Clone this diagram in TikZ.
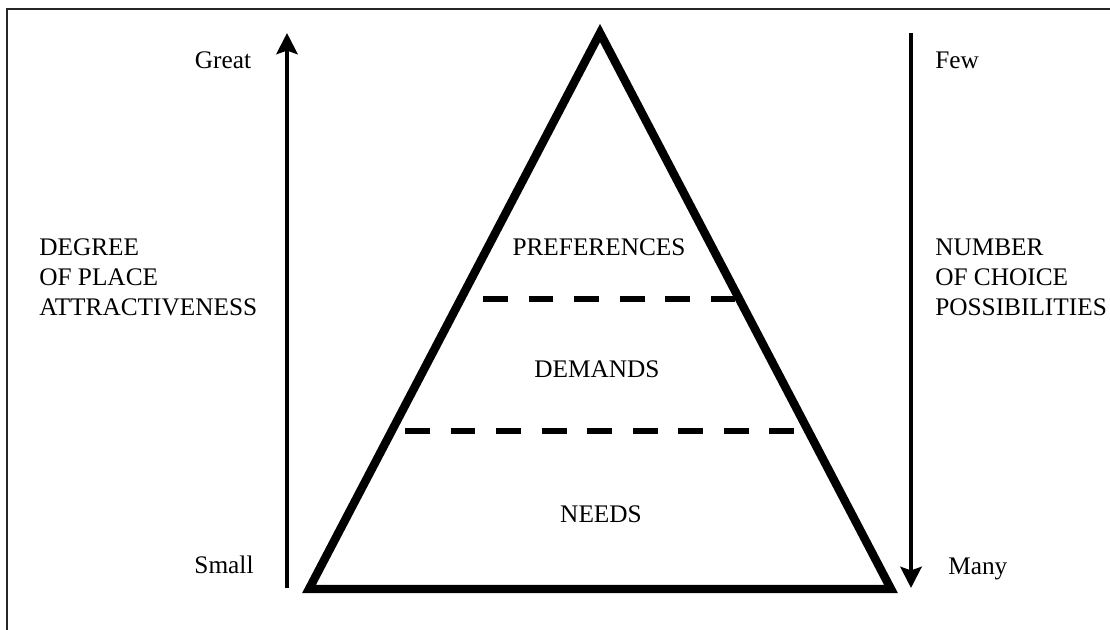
\documentclass[tikz,border=0pt]{standalone}
\usepackage{fontspec}
\setmainfont{Liberation Serif}
\usetikzlibrary{arrows.meta, positioning}

\begin{document}
\begin{tikzpicture}[x=0.025cm, y=-0.025cm,
    lbl/.style={inner sep=0pt, font=\fontsize{18}{21.3}\selectfont},
    axis/.style={line width=3.4pt, -{Stealth[length=15pt, width=15pt, inset=2.5pt]}},
    level/.style={line width=3.6pt, dash pattern=on 17.7pt off 14.7pt}]
  \useasboundingbox (0,0) rectangle (1110,630);
  % Frame
  \draw[line width=1.4pt, black!85] (7,630) -- (7,9) -- (1110,9);
  % Pyramid
  \coordinate (apex) at (600,33);
  \coordinate (baseL) at (309,589);
  \coordinate (baseR) at (891,589);
  \draw[line width=6pt, line join=miter] (baseL) -- (apex) -- (baseR) -- cycle;
  % Levels
  \coordinate (lvlAl) at (483,299);
  \coordinate (lvlAr) at (735,299);
  \coordinate (lvlBl) at (405,431);
  \coordinate (lvlBr) at (795,431);
  \draw[level] (lvlAl) -- (lvlAr);
  \draw[level] (lvlBl) -- (lvlBr);
  \node[lbl, anchor=base] (pref) at (599,255) {PREFERENCES};
  \node[lbl, anchor=base] (dem) at (597,377) {DEMANDS};
  \node[lbl, anchor=base] (need) at (601,522) {NEEDS};
  % Attractiveness
  \coordinate (attrLo) at (287,588);
  \coordinate (attrHi) at (287,33);
  \draw[axis] (attrLo) -- (attrHi);
  \node[lbl, anchor=base] (great) at (223,69) {Great};
  \node[lbl, anchor=base] (small) at (224,573) {Small};
  \node[lbl, align=left, anchor=west] (degree) at (39,277)
    {DEGREE\\OF PLACE\\ATTRACTIVENESS};
  % Choice possibilities
  \coordinate (choiceHi) at (911,33);
  \coordinate (choiceLo) at (911,588);
  \draw[axis] (choiceHi) -- (choiceLo);
  \node[lbl, anchor=base west] (few) at (935,69) {Few};
  \node[lbl, anchor=base west] (many) at (948,574) {Many};
  \node[lbl, align=left, anchor=west] (number) at (935,277)
    {NUMBER\\OF CHOICE\\POSSIBILITIES};
\end{tikzpicture}
\end{document}
